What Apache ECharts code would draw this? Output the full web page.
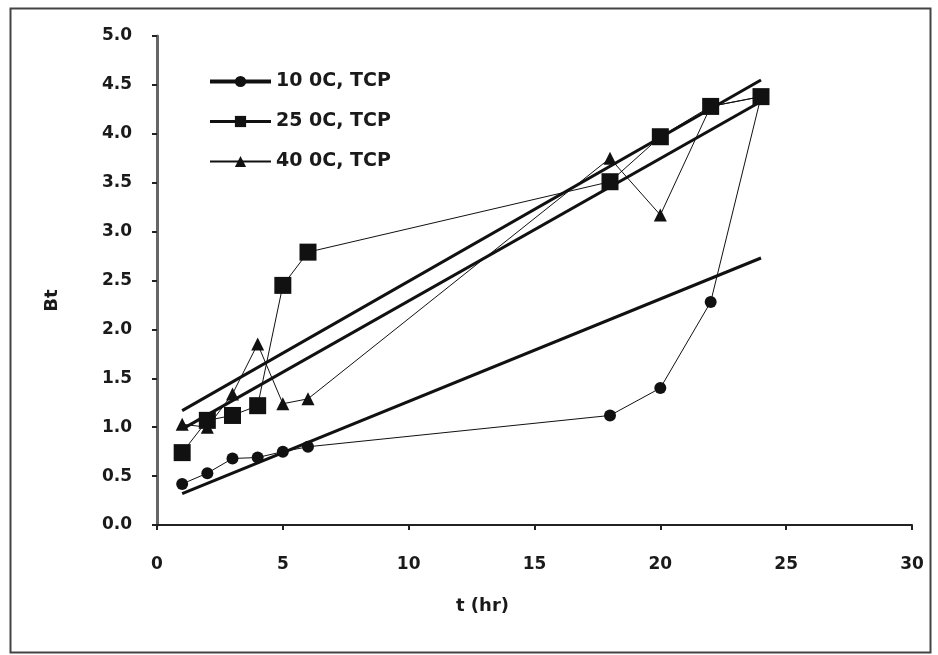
<!DOCTYPE html>
<html>
<head>
<meta charset="utf-8">
<script src="https://cdn.jsdelivr.net/npm/echarts@6/dist/echarts.min.js"></script>
<style>
html,body{margin:0;padding:0;background:#fff;}
#chart{width:938px;height:655px;}
</style>
</head>
<body>
<div id="chart"></div>
<script>
// Data
var timeHours = [1, 2, 3, 4, 5, 6, 18, 20, 22, 24];
var bt10 = [0.42, 0.53, 0.68, 0.69, 0.75, 0.80, 1.12, 1.40, 2.28, 4.38];
var bt25 = [0.74, 1.07, 1.12, 1.22, 2.45, 2.79, 3.51, 3.97, 4.28, 4.38];
var bt40 = [1.03, 1.00, 1.34, 1.85, 1.24, 1.29, 3.75, 3.17, 4.28, 4.38];
// Trend-line end points (t = 1 and t = 24)
var trendT = [1, 24];
var trend10 = [0.32, 2.73];
var trend25 = [1.17, 4.55];
var trend40 = [0.98, 4.33];
var seriesNames = ['10 0C, TCP', '25 0C, TCP', '40 0C, TCP'];
var xTicks = [0, 5, 10, 15, 20, 25, 30];
var yTicks = [0, 0.5, 1, 1.5, 2, 2.5, 3, 3.5, 4, 4.5, 5];

function pairs(xs, ys) { return xs.map(function (x, i) { return [x, ys[i]]; }); }

var FONT = 'DejaVu Sans';
var TXT = '#1a1a1a';
var chart = echarts.init(document.getElementById('chart'), null, {renderer: 'canvas'});

var dataLine = {color: '#111', width: 1};
var trendLine = {color: '#111', width: 3};

chart.setOption({
  backgroundColor: '#fff',
  animation: false,
  graphic: [{
    type: 'rect', left: 8, top: 6, silent: true,
    shape: {width: 920, height: 644},
    style: {fill: 'none', stroke: '#444', lineWidth: 2}
  }],
  grid: {left: 157, right: 26, top: 36, bottom: 130, containLabel: false},
  legend: {
    orient: 'vertical', left: 203, top: 67,
    itemWidth: 61, itemHeight: 14, itemGap: 21,
    textStyle: {fontFamily: FONT, fontSize: 19, fontWeight: 'bold', color: TXT},
    data: [
      {name: seriesNames[0], lineStyle: {width: 4}},
      {name: seriesNames[1], lineStyle: {width: 3}},
      {name: seriesNames[2], lineStyle: {width: 2}}
    ]
  },
  xAxis: {
    type: 'value', min: xTicks[0], max: xTicks[xTicks.length - 1], interval: 5,
    name: 't (hr)', nameLocation: 'middle', nameGap: 72,
    nameTextStyle: {fontFamily: FONT, fontSize: 18, fontWeight: 'bold', color: TXT, padding: [0, 104, 0, 0]},
    axisLine: {lineStyle: {color: '#222', width: 2}},
    axisTick: {show: true, inside: false, length: 5, lineStyle: {color: '#222', width: 2}},
    axisLabel: {fontFamily: FONT, fontSize: 17, fontWeight: 'bold', color: TXT, margin: 31},
    splitLine: {show: false}
  },
  yAxis: {
    type: 'value', min: yTicks[0], max: yTicks[yTicks.length - 1], interval: 0.5,
    name: 'Bt', nameLocation: 'middle', nameGap: 96, nameRotate: 90,
    nameTextStyle: {fontFamily: FONT, fontSize: 18, fontWeight: 'bold', color: TXT, padding: [0, 40, 0, 0]},
    axisLine: {show: true, lineStyle: {color: '#666', width: 3}},
    axisTick: {show: true, inside: false, length: 5, lineStyle: {color: '#222', width: 2}},
    axisLabel: {fontFamily: FONT, fontSize: 17, fontWeight: 'bold', color: TXT, margin: 25,
      formatter: function (v) { return v.toFixed(1); }},
    splitLine: {show: false}
  },
  series: [
    {name: seriesNames[0], type: 'line', data: pairs(timeHours, bt10), symbol: 'circle', symbolSize: 12,
     itemStyle: {color: '#111'}, lineStyle: dataLine, z: 3},
    {name: seriesNames[1], type: 'line', data: pairs(timeHours, bt25), symbol: 'rect', symbolSize: 17,
     itemStyle: {color: '#111'}, lineStyle: dataLine, z: 3},
    {name: seriesNames[2], type: 'line', data: pairs(timeHours, bt40), symbol: 'triangle', symbolSize: 13,
     itemStyle: {color: '#111'}, lineStyle: dataLine, z: 3},
    {name: 'trend10', type: 'line', data: pairs(trendT, trend10), showSymbol: false, symbol: 'none',
     lineStyle: trendLine, z: 2, silent: true},
    {name: 'trend25', type: 'line', data: pairs(trendT, trend25), showSymbol: false, symbol: 'none',
     lineStyle: trendLine, z: 2, silent: true},
    {name: 'trend40', type: 'line', data: pairs(trendT, trend40), showSymbol: false, symbol: 'none',
     lineStyle: trendLine, z: 2, silent: true}
  ]
});
</script>
</body>
</html>
